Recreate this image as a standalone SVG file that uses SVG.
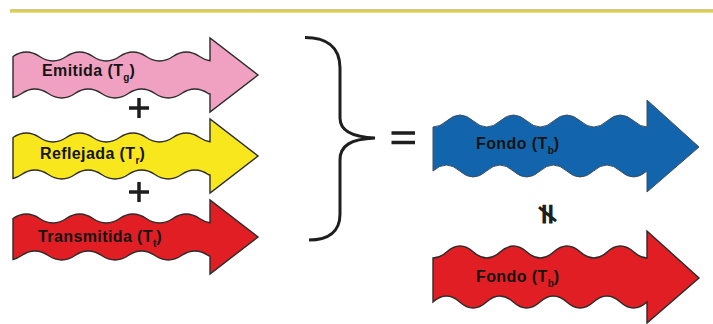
<svg xmlns="http://www.w3.org/2000/svg" xmlns:xlink="http://www.w3.org/1999/xlink" width="713" height="324" viewBox="0 0 713 324">
  <style>
    .arrow { stroke: #2b2b2b; stroke-width: 1.4; stroke-linejoin: miter; }
    .pink { fill: #F0A1C2; }
    .yellow { fill: #F8E71C; }
    .red { fill: #E01E24; }
    .blue { fill: #1265AC; stroke: #3f4c5c; stroke-width: 1; }
    .lbl { font-family: "Liberation Sans", Arial, sans-serif; font-weight: bold; font-size: 16px; letter-spacing: 0.4px; fill: #141414; }
    .sub { font-size: 10px; letter-spacing: 0; }
    .op { fill: none; stroke: #1e1e1e; stroke-linecap: butt; }
  </style>
  <defs>
    <linearGradient id="rule" x1="0" y1="0" x2="0" y2="1">
      <stop offset="0" stop-color="#c9c9c2"/>
      <stop offset="0.3" stop-color="#d9c84a"/>
      <stop offset="0.7" stop-color="#e2d25a"/>
      <stop offset="1" stop-color="#ece6b8"/>
    </linearGradient>
    <path id="leftArrow" d="M13,56.5 Q26.33,47.5 39.65,56.5 T66.3,56.5 T92.95,56.5 T119.6,56.5 T146.25,56.5 T172.9,56.5 T199.55,56.5 Q204.77,60.03 210,60.79 L210,38 L258,75 L210,112 L210,94 L208.2,93.5 Q194.9,84.5 181.6,93.5 T154.9,93.5 T128.3,93.5 T101.6,93.5 T75,93.5 T48.3,93.5 T21.7,93.5 Q17.35,96.43 13,97.46 Z"/>
    <path id="rightArrow" d="M433,127 Q440,127 446.6,121 Q460,109 473.4,121 T500.1,121 T526.9,121 T553.6,121 T580.4,121 T607.1,121 T633.9,121 Q640.6,127 647,127 L647,100 L699,147 L647,192 L647,171 Q633.6,183 620.25,171 T593.5,171 T566.75,171 T540,171 T513.25,171 T486.5,171 T459.75,171 T433,171 Z"/>
  </defs>

  <rect x="10" y="9" width="703" height="4" fill="url(#rule)"/>

  <g id="emitida">
    <use xlink:href="#leftArrow" class="arrow pink"/>
    <text class="lbl" x="42" y="76">Emitida (T<tspan class="sub" dy="5">g</tspan><tspan dy="-5">)</tspan></text>
  </g>
  <g id="reflejada">
    <use xlink:href="#leftArrow" class="arrow yellow" transform="translate(0,81)"/>
    <text class="lbl" x="40" y="159">Reflejada (T<tspan class="sub" dy="5">r</tspan><tspan dy="-5">)</tspan></text>
  </g>
  <g id="transmitida">
    <use xlink:href="#leftArrow" class="arrow red" transform="translate(0,162)"/>
    <text class="lbl" x="38" y="242">Transmitida (T<tspan class="sub" dy="5">t</tspan><tspan dy="-5">)</tspan></text>
  </g>
  <g id="fondo-azul">
    <use xlink:href="#rightArrow" class="blue"/>
    <text class="lbl" x="476" y="149">Fondo (T<tspan class="sub" dy="5">b</tspan><tspan dy="-5">)</tspan></text>
  </g>
  <g id="fondo-rojo">
    <use xlink:href="#rightArrow" class="arrow red" transform="translate(0,131)"/>
    <text class="lbl" x="476" y="282">Fondo (T<tspan class="sub" dy="5">b</tspan><tspan dy="-5">)</tspan></text>
  </g>

  <g id="connectors">
    <path class="op" stroke-width="3.5" d="M129,108 H149 M139,98 V118"/>
    <path class="op" stroke-width="3.5" d="M129,192 H149 M139,182 V202"/>
    <path class="op" stroke-width="3" stroke-linecap="round" d="M305,37.5 C325,37.5 340,46 340,68 L340,118 C340,130 350,137 375,138 C350,139 340,146 340,160 L340,214 C340,232 328,240 309,240"/>
    <path class="op" stroke-width="3.5" d="M391.5,133 H415 M391.5,142.5 H415"/>
    <text x="548" y="214" font-family="DejaVu Sans, sans-serif" font-weight="bold" font-size="30" fill="#1e1e1e" text-anchor="middle" dominant-baseline="central" transform="rotate(90 548 214)">≠</text>
  </g>
</svg>
